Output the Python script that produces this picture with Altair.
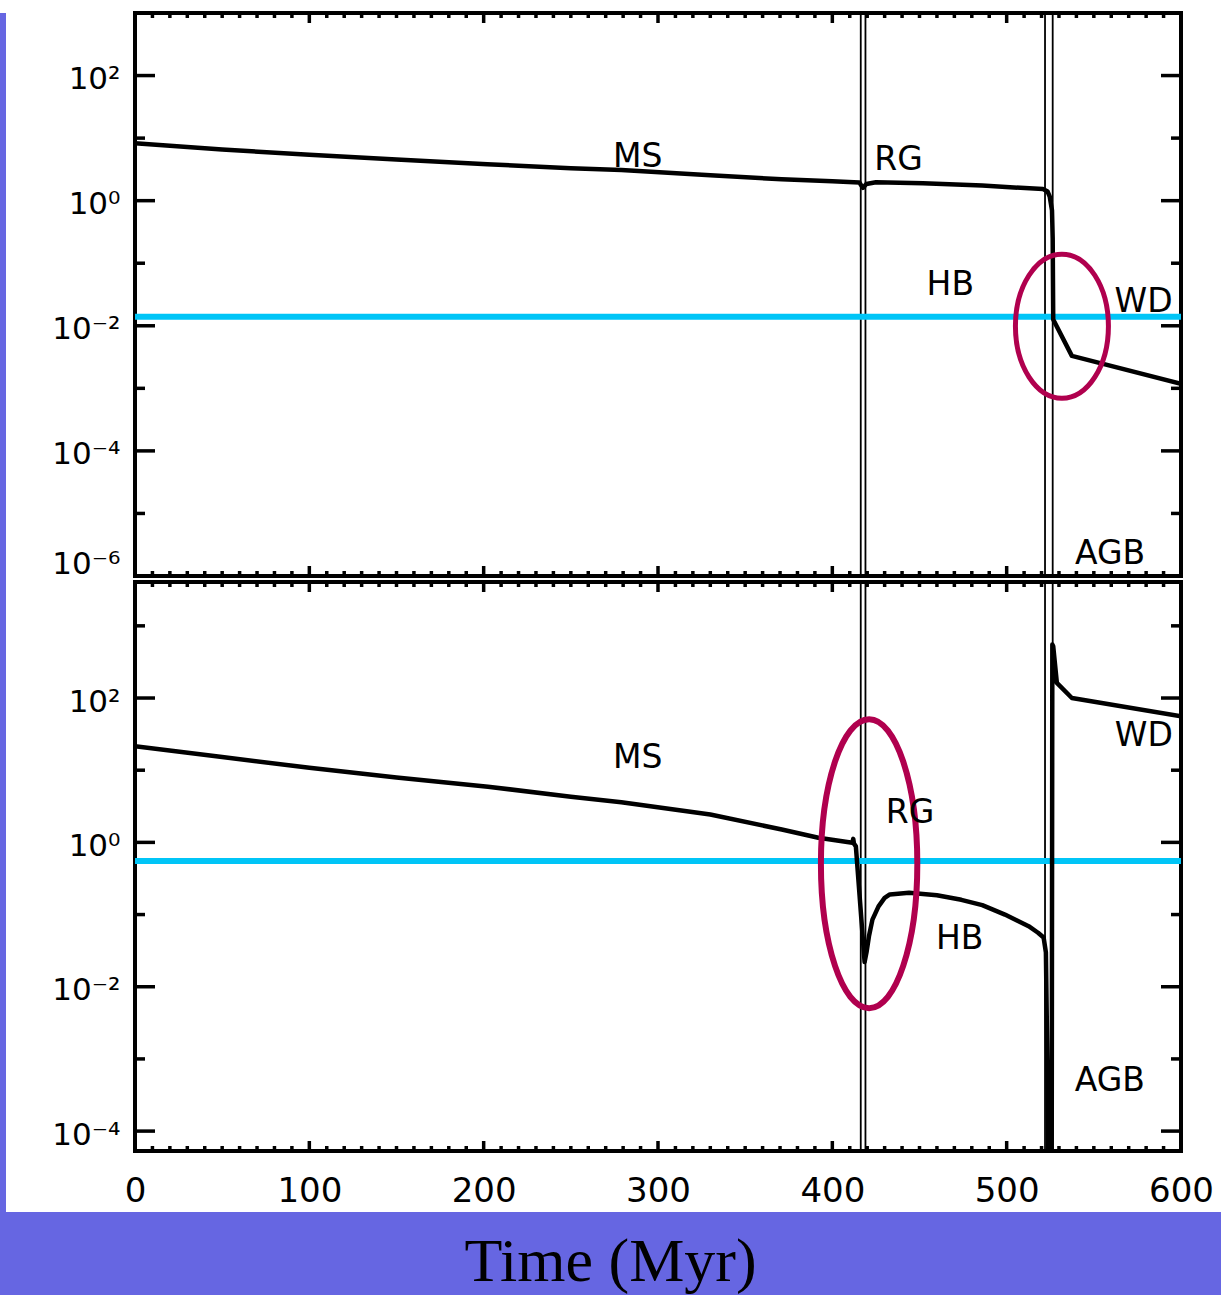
import altair as alt
import pandas as pd

# ---------------- data ----------------
# upper panel curve (time in Myr, value)
top_t = [0, 50, 100, 150, 202, 250, 279, 330, 371, 400, 415.5, 417.5, 419.5, 425,
         452, 486, 520.8, 523.5, 524.7, 526.0, 526.4, 526.7, 537.4, 600]
top_v = [8.3, 6.6, 5.4, 4.55, 3.83, 3.3, 3.1, 2.55, 2.2, 2.05, 1.95, 1.6, 1.85, 1.97,
         1.9, 1.74, 1.53, 1.4, 1.16, 0.7, 0.25, 0.0126, 0.0033, 0.00118]

# lower panel curve
bot_t = [0, 50, 100, 150, 202.5, 250, 279, 330, 371, 392, 411.5, 412.0, 412.4, 413.5,
         418.5, 419.6, 421, 423, 426.5, 430, 433, 444, 460, 474, 486, 499, 512.6,
         518, 521.2, 522.5, 523.3, 524.0, 525.8, 526.2, 526.7, 528.8, 537.4, 600]
bot_v = [21.5, 15.2, 10.8, 7.9, 5.9, 4.3, 3.6, 2.43, 1.51, 1.16, 0.99, 1.12, 0.96, 0.88,
         0.022, 0.03, 0.05, 0.085, 0.13, 0.17, 0.19, 0.20, 0.185, 0.16, 0.135, 0.10, 0.069,
         0.056, 0.048, 0.03, 0.001, 1e-5, 1e-5, 550, 520, 162, 100, 56]

# phase boundaries (thin vertical lines)
phase_lines_t = [416.3, 419.0, 522.0, 526.4]

# horizontal threshold lines
top_cut = [0.0139]
bot_cut = [0.55]

# phase labels
labels = ["MS", "RG", "HB", "WD", "AGB"]
top_label_t = [288.4, 438.0, 467.7, 578.5, 559.3]
top_label_v = [4.91, 4.48, 0.0446, 0.0238, 2.28e-6]
bot_label_t = [288.4, 444.6, 473.1, 578.7, 559.2]
bot_label_v = [14.96, 2.52, 0.0452, 30.1, 4.89e-4]

# highlight rings (centre time, centre value)
top_ring_t = [531.7]
top_ring_v = [0.00986]
bot_ring_t = [421.1]
bot_ring_v = [0.506]

# axes
x_domain = [0, 600]
x_tick_labels = [0, 100, 200, 300, 400, 500, 600]
x_major_inner = [100, 200, 300, 400, 500]
x_minor = [v for v in range(10, 600, 10) if v % 100]
top_domain = [1e-6, 1e3]
bot_domain = [5.3e-5, 4.05e3]
top_y_major = [1e-6, 1e-4, 1e-2, 1, 1e2]
top_y_exps = [-6, -4, -2, 0, 2]
top_y_minor = [1e-5, 1e-3, 1e-1, 1e1]
bot_y_major = [1e-4, 1e-2, 1, 1e2]
bot_y_exps = [-4, -2, 0, 2]
bot_y_minor = [1e-3, 1e-1, 1e1, 1e3]

# ---------------- styling ----------------
W = 1046
H_TOP = 563
H_BOT = 569
BAND = "#6666E2"
CYAN = "#00C5F7"
RING = "#B0004E"
FONT = "DejaVu Sans"
SUP = str.maketrans("-0123456789", "⁻⁰¹²³⁴⁵⁶⁷⁸⁹")


def label_expr(exps):
    exps = sorted(exps, reverse=True)
    expr = ""
    for e in exps[:-1]:
        expr += f"datum.value > {10 ** (e - 1):g} ? '10{str(e).translate(SUP)}' : "
    expr += f"'10{str(exps[-1]).translate(SUP)}'"
    return expr


def ring_shape(rx, ry):
    r = rx / ry
    path = f"M0,-1A{r:.4f},1 0 1,1 0,1A{r:.4f},1 0 1,1 0,-1Z"
    return path, (2 * ry) ** 2


def panel(t, v, cut, lab_t, lab_v, ring_t, ring_v, ydomain, ymaj, yexps, ymin,
          H, xaxis, ring_rx, ring_ry, ring_sw, flush_bottom_label):
    xscale = alt.Scale(domain=x_domain, nice=False, zero=False)
    yscale = alt.Scale(type="log", domain=ydomain, nice=False)
    baseline = "middle"
    if flush_bottom_label:
        baseline = {"condition": {"test": f"datum.value < {ydomain[0] * 2:g}",
                                  "value": "bottom"}, "value": "middle"}
    yaxis = alt.Axis(values=ymaj, labelExpr=label_expr(yexps), ticks=False,
                     domain=False, grid=False, title=None, labelFont=FONT,
                     labelFontSize=31, labelColor="black", labelPadding=15,
                     labelOffset=4, minExtent=127, maxExtent=127,
                     labelBaseline=baseline, labelOverlap=False)
    X = alt.X("t:Q", scale=xscale, axis=xaxis)
    Y = alt.Y("v:Q", scale=yscale, axis=yaxis)

    layers = []
    layers.append(alt.Chart(pd.DataFrame({"t": phase_lines_t}))
                  .mark_rule(color="black", strokeWidth=1.8).encode(x=X))
    layers.append(alt.Chart(pd.DataFrame({"v": cut}))
                  .mark_rule(color=CYAN, strokeWidth=6).encode(y=Y))
    tick = dict(color="black", strokeWidth=3.5)
    dmaj = pd.DataFrame({"v": ymaj})
    dmin = pd.DataFrame({"v": ymin})
    layers.append(alt.Chart(dmaj).mark_rule(**tick).encode(y=Y, x=alt.value(0), x2=alt.value(20)))
    layers.append(alt.Chart(dmaj).mark_rule(**tick).encode(y=Y, x=alt.value(W - 20), x2=alt.value(W)))
    layers.append(alt.Chart(dmin).mark_rule(**tick).encode(y=Y, x=alt.value(0), x2=alt.value(10)))
    layers.append(alt.Chart(dmin).mark_rule(**tick).encode(y=Y, x=alt.value(W - 10), x2=alt.value(W)))
    xmaj = pd.DataFrame({"t": x_major_inner})
    xmin = pd.DataFrame({"t": x_minor})
    layers.append(alt.Chart(xmaj).mark_rule(**tick).encode(x=X, y=alt.value(H - 10), y2=alt.value(H)))
    layers.append(alt.Chart(xmaj).mark_rule(**tick).encode(x=X, y=alt.value(0), y2=alt.value(10)))
    layers.append(alt.Chart(xmin).mark_rule(**tick).encode(x=X, y=alt.value(H - 5), y2=alt.value(H)))
    layers.append(alt.Chart(xmin).mark_rule(**tick).encode(x=X, y=alt.value(0), y2=alt.value(5)))

    curve = pd.DataFrame({"t": t, "v": v, "i": list(range(len(t)))})
    layers.append(alt.Chart(curve).mark_line(color="black", strokeWidth=4.5, clip=True,
                                             strokeJoin="round")
                  .encode(x=X, y=Y, order="i:Q"))

    path, size = ring_shape(ring_rx, ring_ry)
    layers.append(alt.Chart(pd.DataFrame({"t": ring_t, "v": ring_v}))
                  .mark_point(shape=path, size=size, filled=False, stroke=RING,
                              strokeWidth=ring_sw, opacity=1)
                  .encode(x=X, y=Y))

    layers.append(alt.Chart(pd.DataFrame({"t": lab_t, "v": lab_v, "lab": labels}))
                  .mark_text(font=FONT, fontSize=33, color="black", align="center",
                             baseline="middle")
                  .encode(x=X, y=Y, text="lab:N"))

    return alt.layer(*layers).properties(
        width=W, height=H,
        view=alt.ViewBackground(fill="white", stroke="black", strokeWidth=4))


top_xaxis = alt.Axis(orient="top", labels=False, ticks=False, domain=False, grid=False,
                     title=None, minExtent=11, maxExtent=11)
bot_xaxis = alt.Axis(values=x_tick_labels, format="d", labelFlush=False, ticks=False,
                     domain=False, grid=False, title=None, labelFont=FONT,
                     labelFontSize=34, labelColor="black", labelPadding=23,
                     labelOverlap=False)

top = panel(top_t, top_v, top_cut, top_label_t, top_label_v, top_ring_t, top_ring_v,
            top_domain, top_y_major, top_y_exps, top_y_minor, H_TOP, top_xaxis,
            46.5, 72, 5, True)
bottom = panel(bot_t, bot_v, bot_cut, bot_label_t, bot_label_v, bot_ring_t, bot_ring_v,
               bot_domain, bot_y_major, bot_y_exps, bot_y_minor, H_BOT, bot_xaxis,
               48.2, 144.5, 6, False)

panels = alt.vconcat(top, bottom, spacing=6, bounds="flush")

strip = alt.Chart(pd.DataFrame({"a": [0]})).mark_point(opacity=0).properties(
    width=6, height=1211,
    view=alt.ViewBackground(fill=BAND, stroke="transparent", strokeWidth=0))

band = alt.Chart(pd.DataFrame({"a": [0]})).mark_point(opacity=0).properties(
    width=1221, height=84,
    view=alt.ViewBackground(fill=BAND, stroke="transparent", strokeWidth=0),
    title=alt.TitleParams(text="Time (Myr)", orient="bottom", anchor="middle",
                          offset=-15, baseline="alphabetic", font="Liberation Serif",
                          fontSize=62, fontWeight="normal", color="black"))

chart = alt.vconcat(
    alt.hconcat(strip, panels, spacing=0),
    band,
    spacing=1199,
    bounds="flush",
).properties(padding=0, background="white")

chart.save("out.html", embed_options={"renderer": "svg", "actions": False})
